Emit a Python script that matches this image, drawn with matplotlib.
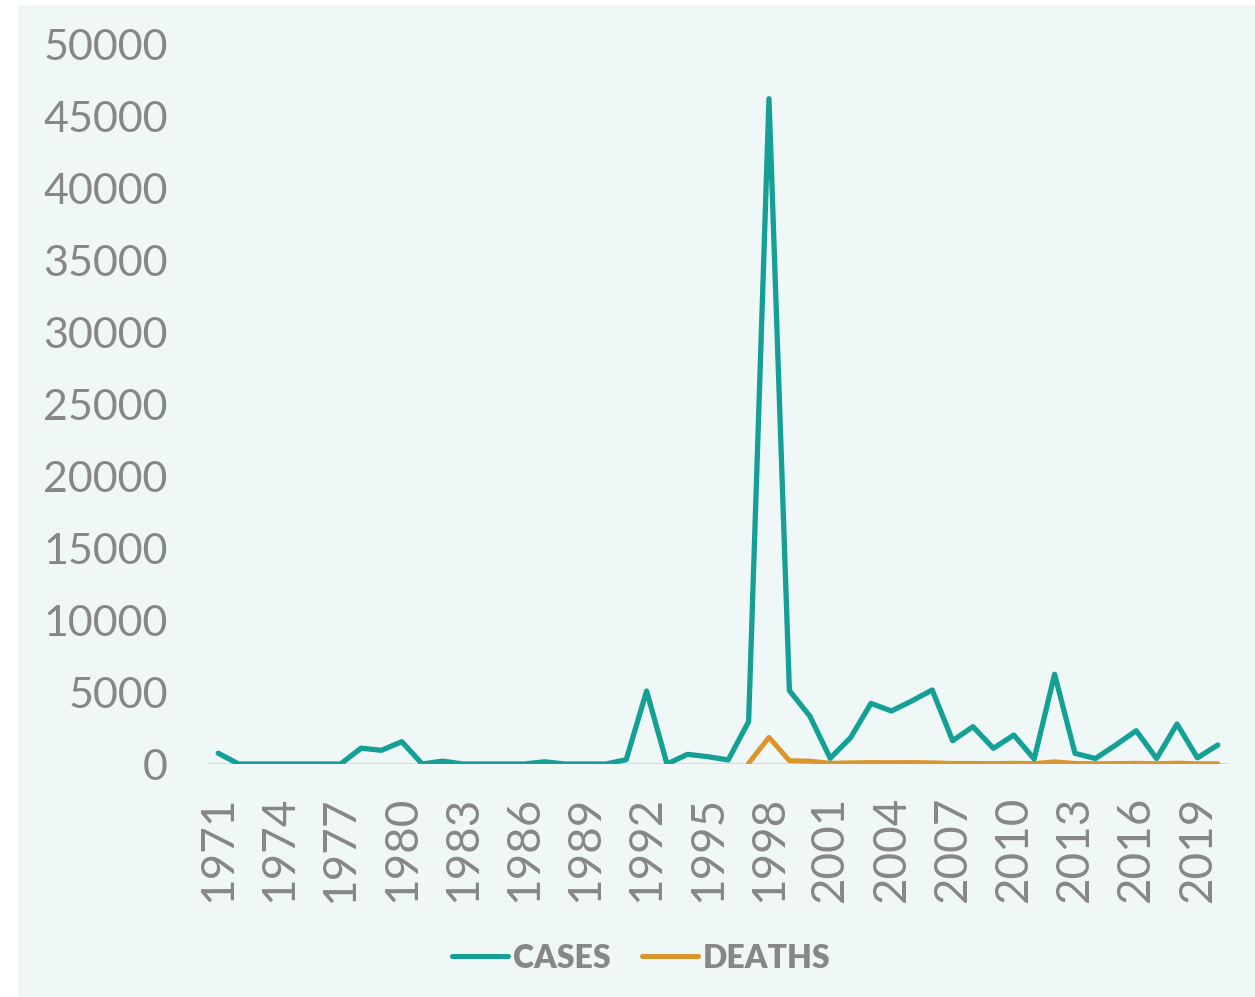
import matplotlib
matplotlib.use("Agg")
import matplotlib.pyplot as plt
from matplotlib.patches import Rectangle
import numpy as np

years = list(range(1971, 2021))

cases = [750, 0, 0, 0, 0, 0, 0, 1100, 950, 1550,
         0, 200, 0, 0, 0, 0, 150, 0, 0, 0,
         300, 5070, 0, 670, 510, 280, 2940, 46200, 5100, 3330,
         400, 1830, 4210, 3680, 4380, 5140, 1620, 2590, 1090, 2010,
         350, 6230, 740, 380, 1320, 2310, 380, 2780, 430, 1320]

deaths = [np.nan] * 26 + [50, 1850, 230, 200,
                          50, 80, 100, 90, 100, 80, 40, 40, 30, 50,
                          30, 150, 40, 20, 30, 50, 20, 60, 20, 20]

tick_years = years[::3]

teal = "#14A094"
orange = "#DB952C"
grey = "#878787"
bg = "#EFF8F7"

fig = plt.figure(figsize=(12.55, 9.97), dpi=100)
fig.patch.set_facecolor("white")
# light panel behind the whole chart, leaving a thin white margin
fig.patches.append(Rectangle((18 / 1255, 0), 1 - 18 / 1255, 1 - 5 / 997,
                             transform=fig.transFigure, facecolor=bg,
                             edgecolor="none", zorder=-10))

ax = fig.add_axes([208 / 1255, 1 - 764 / 997, 1020 / 1255, 720 / 997])
ax.set_facecolor("none")
ax.set_zorder(1)

x = np.arange(len(years))
ax.axhline(0, color="#D9D9D9", lw=1.5, zorder=1)
ax.plot(x, cases, color=teal, lw=3.8, solid_joinstyle="round",
        solid_capstyle="round", label="CASES", zorder=3)
ax.plot(x, deaths, color=orange, lw=3.6, solid_joinstyle="round",
        solid_capstyle="round", label="DEATHS", zorder=2)

ax.set_xlim(-0.5, len(years) - 0.5)
ax.set_ylim(0, 50000)
ax.set_yticks(range(0, 50001, 5000))
ax.set_yticklabels([str(v) for v in range(0, 50001, 5000)],
                   fontsize=31, color=grey, family="Lato")
ax.set_xticks([years.index(y) for y in tick_years])
ax.set_xticklabels([str(y) for y in tick_years], rotation=90,
                   fontsize=33, color=grey, family="Lato")
ax.tick_params(axis="y", length=0, pad=29)
ax.tick_params(axis="x", length=0, pad=23)
for s in ax.spines.values():
    s.set_visible(False)

leg = fig.legend(loc="center", bbox_to_anchor=(0.511, 0.039), ncol=2,
                 frameon=False, handlelength=1.75, handletextpad=0.15,
                 columnspacing=1.0,
                 prop={"family": "Lato", "weight": "heavy", "size": 23})
for t in leg.get_texts():
    t.set_color(grey)
for h in leg.get_lines():
    h.set_linewidth(3.6)
    h.set_solid_capstyle("round")

fig.savefig("out.png", dpi=100, facecolor=fig.get_facecolor())
